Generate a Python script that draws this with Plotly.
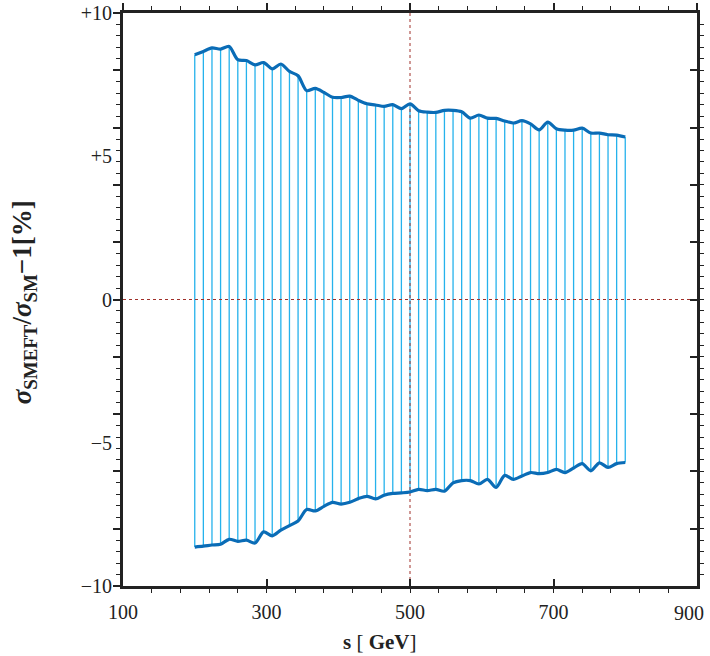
import plotly.graph_objects as go

# energy grid (GeV)
s_vals = [200 + 12 * k for k in range(51)]

upper = [8.54, 8.66, 8.78, 8.74, 8.83, 8.37, 8.34, 8.19, 8.27, 8.05,
         8.22, 7.96, 7.81, 7.29, 7.37, 7.23, 7.06, 7.05, 7.10, 6.95,
         6.83, 6.79, 6.74, 6.80, 6.66, 6.83, 6.59, 6.54, 6.53, 6.60,
         6.60, 6.55, 6.33, 6.44, 6.33, 6.32, 6.23, 6.16, 6.24, 6.13,
         5.92, 6.19, 5.96, 5.91, 5.91, 5.98, 5.81, 5.81, 5.75, 5.74, 5.67]

lower = [-8.64, -8.61, -8.57, -8.54, -8.37, -8.44, -8.40, -8.50, -8.11, -8.25,
         -8.05, -7.89, -7.73, -7.33, -7.38, -7.22, -7.08, -7.14, -7.08, -6.95,
         -6.87, -6.96, -6.83, -6.77, -6.75, -6.72, -6.63, -6.67, -6.63, -6.69,
         -6.40, -6.32, -6.32, -6.44, -6.28, -6.56, -6.14, -6.28, -6.16, -6.04,
         -6.08, -6.04, -5.93, -6.04, -5.88, -5.73, -5.98, -5.70, -5.86, -5.73, -5.69]

x_major = [100, 300, 500, 700, 900]
x_label_text = ["100", "300", "500", "700", ""]
x_last_label = "900"
y_major = [-10, -8, -6, -4, -2, 0, 2, 4, 6, 8, 10]
y_label_vals = [-10, -5, 0, 5, 10]
y_label_text = ["\u221210", "\u22125", "0", "+5", "+10"]

FONT = "Liberation Serif"
AX = "#222222"
CURVE = "#0a6cb6"
HATCH = "#25b2ec"
REF = "#a0302a"

fig = go.Figure()

# vertical hatching between the curves
vx, vy = [], []
for s, lo, up in zip(s_vals, lower, upper):
    vx += [s, s, None]
    vy += [lo, up, None]
fig.add_trace(go.Scatter(x=vx, y=vy, mode="lines",
                         line=dict(color=HATCH, width=1.3),
                         hoverinfo="skip", showlegend=False))

# reference lines
fig.add_trace(go.Scatter(x=[100, 900], y=[0, 0], mode="lines",
                         line=dict(color=REF, width=1, dash="dot"),
                         hoverinfo="skip", showlegend=False))
fig.add_trace(go.Scatter(x=[500, 500], y=[-10, 10], mode="lines",
                         line=dict(color=REF, width=1, dash="dot"),
                         hoverinfo="skip", showlegend=False))

# envelope curves
for arr in (upper, lower):
    fig.add_trace(go.Scatter(x=s_vals, y=arr, mode="lines",
                             line=dict(color=CURVE, width=3.2, shape="spline", smoothing=0.8),
                             showlegend=False))

# dummy traces to activate helper axes
fig.add_trace(go.Scatter(x=[None], y=[None], xaxis="x2", yaxis="y2",
                         showlegend=False, hoverinfo="skip"))
fig.add_trace(go.Scatter(x=[None], y=[None], xaxis="x", yaxis="y3",
                         showlegend=False, hoverinfo="skip"))

common_x = dict(range=[100, 900], tickmode="array", tickvals=x_major,
                ticklen=7, tickwidth=2, tickcolor=AX, automargin=False,
                minor=dict(tick0=100, dtick=40, ticklen=4, tickwidth=1.3, tickcolor=AX),
                showline=True, linewidth=2.5, linecolor=AX,
                showgrid=False, zeroline=False)
common_y = dict(range=[-10, 10], tickmode="array", tickvals=y_major,
                ticklen=7, tickwidth=2, tickcolor=AX, automargin=False,
                minor=dict(tick0=-10, dtick=0.4, ticklen=4, tickwidth=1.3, tickcolor=AX),
                showline=True, linewidth=2.5, linecolor=AX,
                showgrid=False, zeroline=False, showticklabels=False)

fig.update_layout(
    template="none",
    width=710, height=656,
    margin=dict(l=123, r=13, t=13, b=70, autoexpand=False),
    paper_bgcolor="white", plot_bgcolor="white",
    font=dict(family=FONT, size=20, color="#222222"),
    xaxis=dict(**common_x, ticks="inside", side="bottom",
               ticktext=x_label_text,
               showticklabels=True, ticklabelstandoff=6,
               ticklabeloverflow="allow",
               tickfont=dict(family=FONT, size=20, color="#222222")),
    xaxis2=dict(**common_x, ticks="outside", side="top", overlaying="x",
                anchor="y2", showticklabels=False),
    yaxis=dict(**common_y, ticks="outside", side="left"),
    yaxis2=dict(**common_y, ticks="inside", side="right", overlaying="y",
                anchor="x2"),
    yaxis3=dict(range=[-10, 10], tickmode="array", tickvals=y_label_vals,
                ticktext=y_label_text, ticks="", side="left", overlaying="y",
                anchor="x", showline=False, showgrid=False, zeroline=False,
                ticklabelstandoff=10, automargin=False,
                ticklabeloverflow="allow",
                tickfont=dict(family=FONT, size=20, color="#222222")),
    annotations=[
        dict(text="<b><i>σ</i><sub>SMEFT</sub>/<i>σ</i><sub>SM</sub>\u22121[%]</b>",
             xref="paper", yref="paper", x=-0.171, y=0.495, textangle=-90,
             xanchor="center", yanchor="middle", showarrow=False,
             font=dict(family=FONT, size=27, color="#222222")),
        dict(text="<b>s</b> [ <b>GeV</b>]",
             xref="paper", yref="paper", x=0.448, y=-0.097,
             xanchor="center", yanchor="middle", showarrow=False,
             font=dict(family=FONT, size=21, color="#222222")),
        dict(text=x_last_label,
             xref="paper", yref="paper", x=1.0, y=-0.012,
             xanchor="center", yanchor="top", xshift=-8, yshift=-7,
             showarrow=False,
             font=dict(family=FONT, size=20, color="#222222")),
    ],
)

fig.write_html("out.html", config={"displayModeBar": False})

# remove the default page margin so the figure sits at the window origin
with open("out.html", "r", encoding="utf-8") as f:
    page = f.read()
page = page.replace("<head>", "<head><style>html,body{margin:0;padding:0;overflow:hidden;}</style>", 1)
with open("out.html", "w", encoding="utf-8") as f:
    f.write(page)
